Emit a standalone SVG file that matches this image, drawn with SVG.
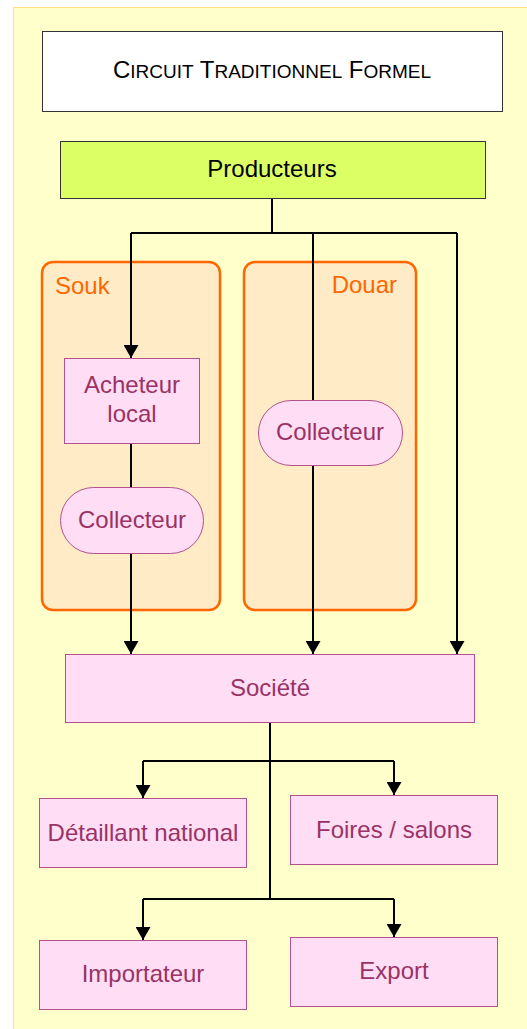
<svg xmlns="http://www.w3.org/2000/svg" width="527" height="1029" viewBox="0 0 527 1029">
<defs>
<marker id="ah" viewBox="0 0 13 15" refX="13" refY="7.5" markerWidth="13" markerHeight="15" markerUnits="userSpaceOnUse" orient="auto">
<path d="M0,0 L13,7.5 L0,15 Z" fill="#000"/>
</marker>
<style>
.node{fill:#FFDDF4;stroke:#B0528C;stroke-width:1}
.nt{font-family:"Liberation Sans",Arial,sans-serif;font-size:24px;fill:#993366;text-anchor:middle}
.grp{fill:#FFEBC6;stroke:#FF6600;stroke-width:2.5}
.gt{font-family:"Liberation Sans",Arial,sans-serif;font-size:24px;fill:#FF6600}
.c{fill:none;stroke:#000;stroke-width:2}
</style>
</defs>
<rect x="0" y="0" width="527" height="1029" fill="#FFFFFF"/>
<rect x="13.5" y="7.5" width="530" height="1040" fill="#FFFFCC" stroke="#FFE27A" stroke-width="1"/>
<g id="title">
<rect x="42.5" y="31.5" width="460" height="80" fill="#FFFFFF" stroke="#333" stroke-width="1"/>
<text x="272" y="78" font-family="Liberation Sans,Arial,sans-serif" font-size="24" text-anchor="middle" fill="#000">C<tspan font-size="19">IRCUIT</tspan> T<tspan font-size="19">RADITIONNEL</tspan> F<tspan font-size="19">ORMEL</tspan></text>
</g>
<g id="souk">
<rect class="grp" x="42" y="262" width="178" height="348" rx="11"/>
<text class="gt" x="55" y="294">Souk</text>
</g>
<g id="douar">
<rect class="grp" x="244" y="262" width="172" height="348" rx="11"/>
<text class="gt" x="397" y="293" text-anchor="end">Douar</text>
</g>
<g id="connectors">
<path class="c" d="M272,198 V233"/>
<path class="c" d="M131,233 H457"/>
<path class="c" d="M131,233 V358" marker-end="url(#ah)"/>
<path class="c" d="M313,233 V400"/>
<path class="c" d="M457,233 V654" marker-end="url(#ah)"/>
<path class="c" d="M131,443 V487"/>
<path class="c" d="M131,553 V654" marker-end="url(#ah)"/>
<path class="c" d="M313,465 V654" marker-end="url(#ah)"/>
<path class="c" d="M270,722 V899"/>
<path class="c" d="M143,761 H394"/>
<path class="c" d="M143,761 V798" marker-end="url(#ah)"/>
<path class="c" d="M394,761 V795" marker-end="url(#ah)"/>
<path class="c" d="M143,899 H394"/>
<path class="c" d="M143,899 V940" marker-end="url(#ah)"/>
<path class="c" d="M394,899 V937" marker-end="url(#ah)"/>
</g>
<g id="producteurs">
<rect x="60.5" y="141.5" width="425" height="57" fill="#DDFF66" stroke="#333" stroke-width="1"/>
<text x="272" y="177" font-family="Liberation Sans,Arial,sans-serif" font-size="24" text-anchor="middle" fill="#000">Producteurs</text>
</g>
<g id="acheteur">
<rect class="node" x="64.5" y="358.5" width="135" height="85"/>
<text class="nt" x="132" y="393">Acheteur</text>
<text class="nt" x="132" y="422">local</text>
</g>
<g id="collecteur1">
<rect class="node" x="60.5" y="487.5" width="143" height="66" rx="33"/>
<text class="nt" x="132" y="528">Collecteur</text>
</g>
<g id="collecteur2">
<rect class="node" x="258.5" y="400.5" width="144" height="65" rx="32.5"/>
<text class="nt" x="330" y="440">Collecteur</text>
</g>
<g id="societe">
<rect class="node" x="65.5" y="654.5" width="409" height="68"/>
<text class="nt" x="270" y="696">Société</text>
</g>
<g id="detaillant">
<rect class="node" x="39.5" y="798.5" width="207" height="69"/>
<text class="nt" x="143" y="841">Détaillant national</text>
</g>
<g id="foires">
<rect class="node" x="290.5" y="795.5" width="207" height="69"/>
<text class="nt" x="394" y="838">Foires / salons</text>
</g>
<g id="importateur">
<rect class="node" x="39.5" y="940.5" width="207" height="69"/>
<text class="nt" x="143" y="982">Importateur</text>
</g>
<g id="export">
<rect class="node" x="290.5" y="937.5" width="207" height="69"/>
<text class="nt" x="394" y="979">Export</text>
</g>
</svg>
